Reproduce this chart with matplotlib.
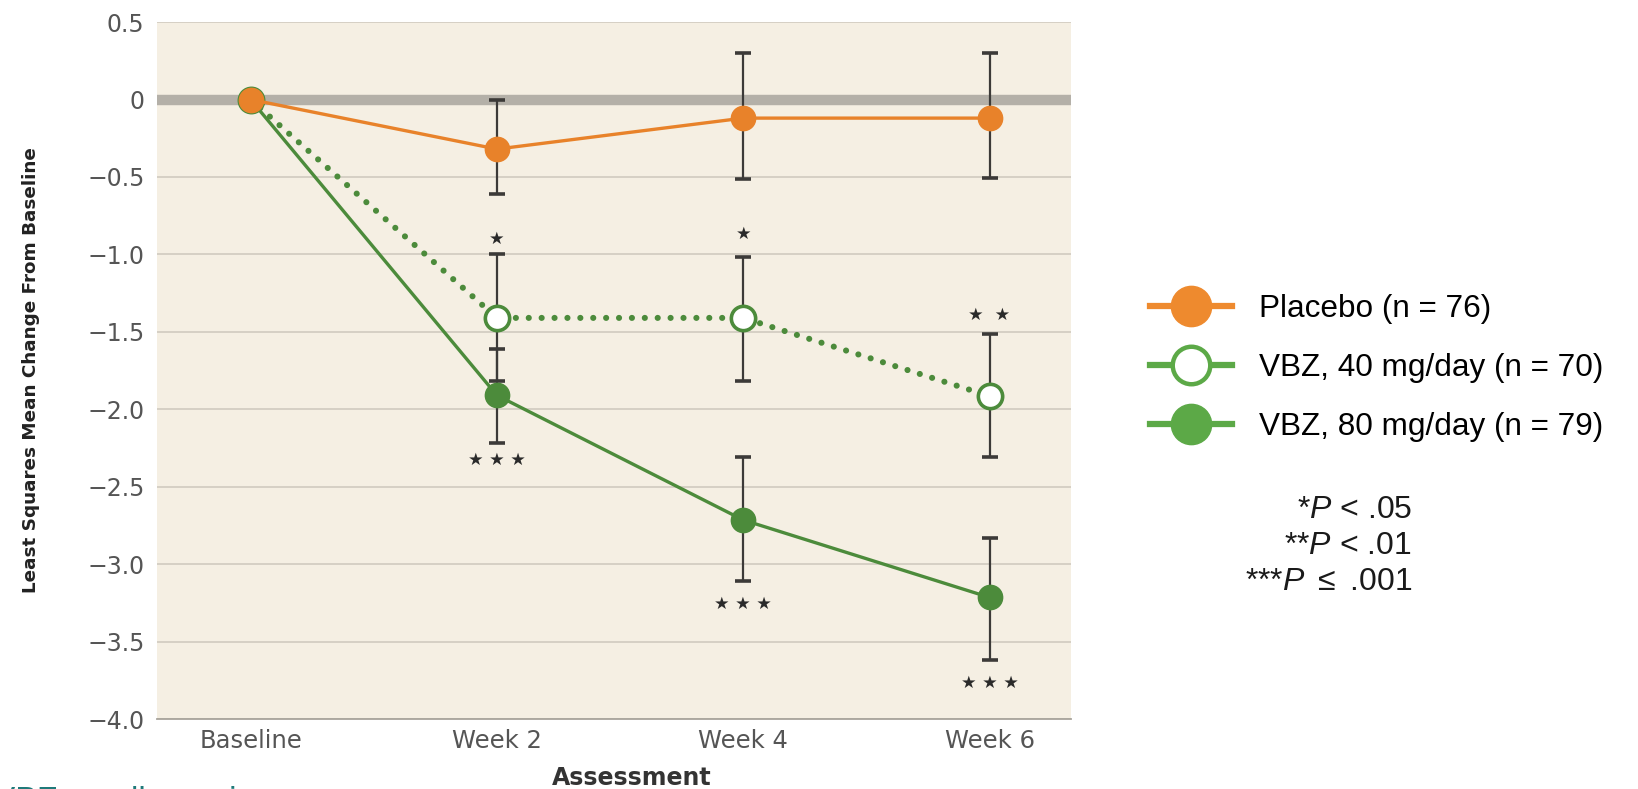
import numpy as np
import matplotlib
matplotlib.use("Agg")
import matplotlib.pyplot as plt
from matplotlib.lines import Line2D

# Data
visits = ["Baseline", "Week 2", "Week 4", "Week 6"]

placebo = [0.0, -0.32, -0.12, -0.12]
placebo_lo = [np.nan, -0.61, -0.51, -0.505]
placebo_hi = [np.nan, 0.0, 0.30, 0.30]

vbz40 = [0.0, -1.41, -1.41, -1.915]
vbz40_lo = [np.nan, -1.82, -1.82, -2.31]
vbz40_hi = [np.nan, -1.0, -1.015, -1.515]

vbz80 = [0.0, -1.91, -2.715, -3.215]
vbz80_lo = [np.nan, -2.22, -3.11, -3.62]
vbz80_hi = [np.nan, -1.61, -2.31, -2.83]

# significance marks: (visit index, y value, text)
sig_x = [1, 2, 3, 1, 2, 3]
sig_y = [-0.90, -0.87, -1.39, -2.33, -3.26, -3.77]
sig_txt = ["\u2605", "\u2605", "\u2605  \u2605",
           "\u2605 \u2605 \u2605", "\u2605 \u2605 \u2605", "\u2605 \u2605 \u2605"]

legend_labels = ["Placebo (n = 76)", "VBZ, 40 mg/day (n = 70)", "VBZ, 80 mg/day (n = 79)"]
pval_labels = [r"*$\mathit{P}$ < .05", r"**$\mathit{P}$ < .01", r"***$\mathit{P}$ $\leq$ .001"]

ORANGE = "#E8822A"
GREEN = "#4C8B3B"
LEG_ORANGE = "#EE8A2E"
LEG_GREEN = "#5CA947"
BG = "#F5EFE3"
TICK = "#555555"

plt.rcParams["mathtext.fontset"] = "custom"
plt.rcParams["mathtext.rm"] = "Liberation Sans"
plt.rcParams["mathtext.it"] = "Liberation Sans:italic"

fig = plt.figure(figsize=(16.38, 7.89), dpi=100)
ax = fig.add_axes([0.0958, 0.0887, 0.558, 0.8833])
ax.set_facecolor(BG)

x = np.arange(len(visits))

ax.set_yticks(np.arange(-4.0, 0.51, 0.5))
ax.yaxis.grid(True, color="#D3CDC2", lw=1.3)
ax.set_axisbelow(True)
ax.axhline(0, color="#B4B0A8", lw=7.5, zorder=1)

def err(vals, lo, hi):
    v = np.array(vals)
    return [v - np.array(lo), np.array(hi) - v]

for vals, lo, hi in [(placebo, placebo_lo, placebo_hi),
                     (vbz40, vbz40_lo, vbz40_hi),
                     (vbz80, vbz80_lo, vbz80_hi)]:
    ax.errorbar(x, vals, yerr=err(vals, lo, hi), fmt="none", ecolor="#3C3A38",
                elinewidth=1.6, capsize=6, capthick=2.6, zorder=2)

ax.plot(x, vbz80, color=GREEN, lw=2.4, marker="o", ms=17.5, mfc=GREEN, mec=GREEN, zorder=3)
ax.plot(x, vbz40, color=GREEN, lw=4.4, ls=(0, (0.01, 2.1)), dash_capstyle="round",
        marker="o", ms=17.5, mfc="white", mec=GREEN, mew=2.6, zorder=4)
ax.plot(x, placebo, color=ORANGE, lw=2.4, marker="o", ms=17.5, mfc=ORANGE, mec=ORANGE, zorder=5)

for xi, yi, t in zip(sig_x, sig_y, sig_txt):
    ax.text(xi, yi, t, ha="center", va="center", fontsize=12.5, color="#2A2A2A")

ax.set_xlim(-0.38, 3.33)
ax.set_ylim(-4.0, 0.5)
ax.set_xticks(x)
ax.set_xticklabels(visits)
ylabels = ["\u22124.0", "\u22123.5", "\u22123.0", "\u22122.5", "\u22122.0",
           "\u22121.5", "\u22121.0", "\u22120.5", "0", "0.5"]
ax.set_yticklabels(ylabels)
ax.tick_params(axis="both", length=0, labelcolor=TICK)
ax.tick_params(axis="x", pad=7, labelsize=17.5)
ax.tick_params(axis="y", pad=9, labelsize=17)
for s in ["top", "right", "left"]:
    ax.spines[s].set_visible(False)
ax.spines["bottom"].set_color("#A8A49C")
ax.spines["bottom"].set_linewidth(1.3)

ax.set_ylabel("Least Squares Mean Change From Baseline", fontsize=13.2,
              fontweight="bold", color="#222222")
ax.yaxis.set_label_coords(-0.128, 0.5)
fig.text(632 / 1638, 0.014, "Assessment", ha="center", va="center",
         fontsize=17, fontweight="bold", color="#333333")

fig.text(-0.004, 0.004, "VBZ = valbenazine", ha="left", va="top",
         fontsize=24, color="#1F7A7A", family="Liberation Sans")

handles = [
    Line2D([], [], color=LEG_ORANGE, lw=4.5, marker="o", ms=29, mfc=LEG_ORANGE, mec=LEG_ORANGE),
    Line2D([], [], color=LEG_GREEN, lw=4.5, marker="o", ms=27, mfc="white", mec=LEG_GREEN, mew=3.2),
    Line2D([], [], color=LEG_GREEN, lw=4.5, marker="o", ms=29, mfc=LEG_GREEN, mec=LEG_GREEN),
]
fig.legend(handles, legend_labels, loc="center left", bbox_to_anchor=(0.685, 0.533),
           frameon=False, prop={"family": "Liberation Sans", "size": 22.7},
           handlelength=2.6, handletextpad=0.85, labelspacing=0.92)

for i, t in enumerate(pval_labels):
    fig.text(1412 / 1638, 1 - (510 + 36 * i) / 789, t, ha="right", va="center",
             fontsize=23, family="Liberation Sans", color="#1A1A1A")

fig.savefig("out.png", dpi=100)
